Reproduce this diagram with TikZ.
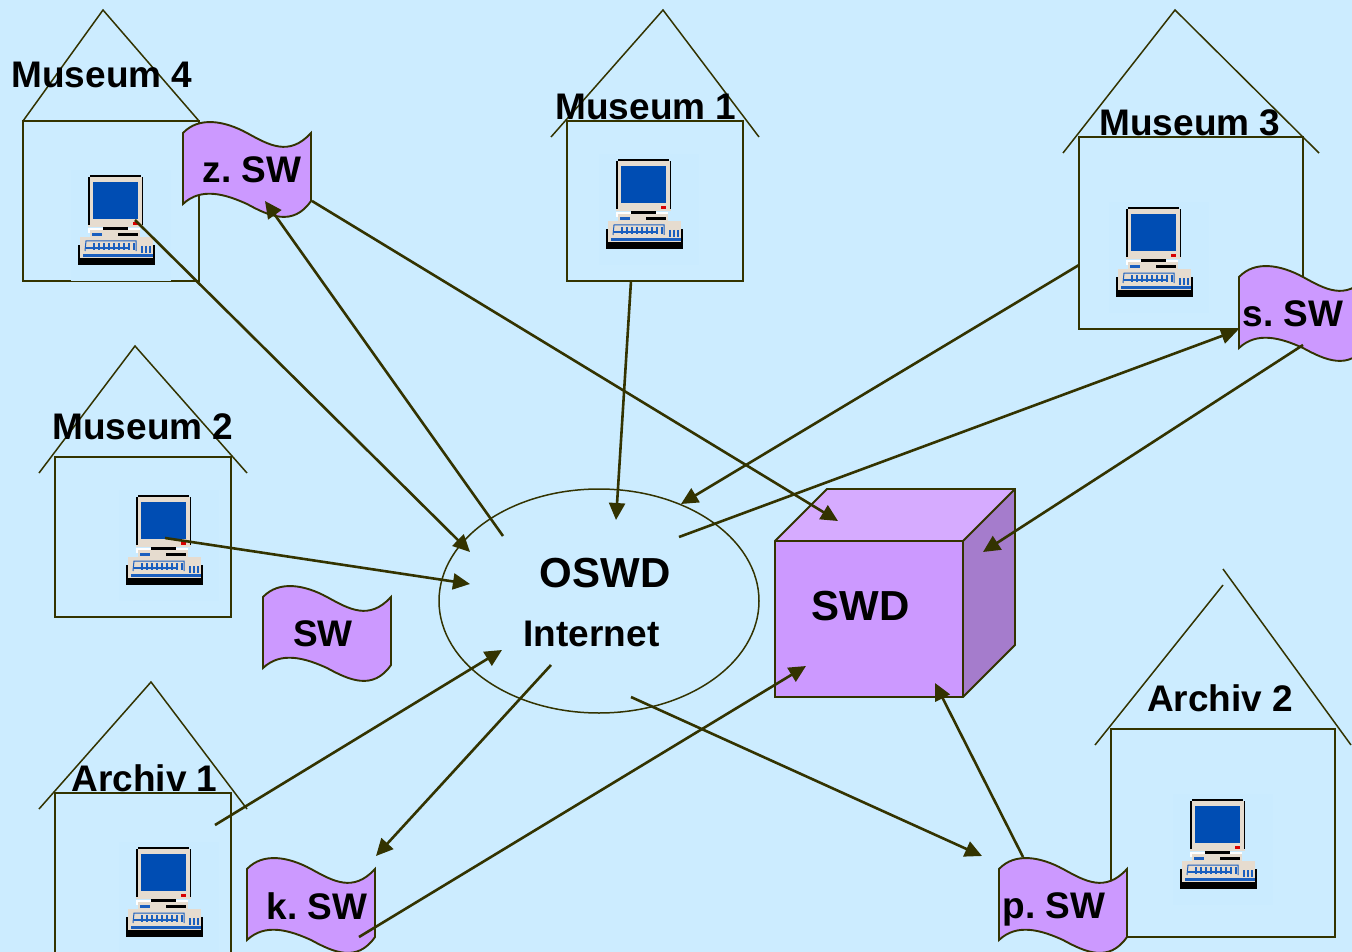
\documentclass[tikz,border=0pt]{standalone}
\usepackage{fontspec}
\setmainfont{Liberation Sans}
\usepackage{tikz}
\usetikzlibrary{arrows.meta}
\usetikzlibrary{shapes.geometric}

\definecolor{pagebg}{HTML}{CCECFF}
\definecolor{iconbg}{HTML}{CAEBFF}
\definecolor{wire}{HTML}{333300}
\definecolor{lilac}{HTML}{CC99FF}
\definecolor{lilactop}{HTML}{D6ABFF}
\definecolor{lilacside}{HTML}{A57CCC}
\definecolor{screenblue}{HTML}{004DB3}
\definecolor{keyblue}{HTML}{1A5FBF}
\definecolor{casing}{HTML}{E6DCCF}

\tikzset{
	pics/computer/.style={code={
		\fill[iconbg] (-45,-50) rectangle (55,61);
		% monitor
		\fill[casing] (-28,-43) rectangle (27,7);
		\fill[black] (-26,-45) rectangle (25,-43);
		\fill[black] (-28,-43) rectangle (-26.5,5);
		\fill[black] (25.5,-43) rectangle (27,5);
		\fill[screenblue] (-23,-38) rectangle (22,-1);
		\fill[red!85!black] (17,2) rectangle (22,5);
		% base
		\fill[black] (-13,7) rectangle (12,10);
		\fill[white] (-28,8) rectangle (-13,13);
		\fill[white] (12,8) rectangle (24,13);
		\fill[casing] (-26,10) rectangle (24,18);
		\fill[black] (2,13) rectangle (22,16);
		\fill[keyblue] (-24,13) rectangle (-14,16);
		% keyboard
		\fill[black] (-38,25) rectangle (39,45);
		\fill[casing] (-36,17) rectangle (37,38);
		\fill[keyblue] (-33,34) rectangle (37,37);
		\draw[keyblue, line width=1] (-31,31) -- (-30,21) -- (20,21) -- (20,31);
		\draw[keyblue, line width=1.2] (-30,28) -- (14,28);
		\foreach \tx in {-22,-17,...,18} {
			\draw[keyblue, line width=1.4] (\tx,23) -- (\tx,30);
		}
		\foreach \tx in {26,30,34} {
			\draw[keyblue, line width=1.4] (\tx,26) -- (\tx,33);
		}
	}},
	pics/banner/.style={code={
		\draw[bannerline] (0,12) .. controls (16,-5) and (42,0) .. (64,12)
			.. controls (86,24) and (106,36) .. (128,12) -- (128,80)
			.. controls (110,106) and (86,95) .. (64,83)
			.. controls (42,73) and (18,66) .. (0,83) -- cycle;
	}}
}

\begin{document}
\begin{tikzpicture}[
		x=1pt, y=-1pt,
		line join=miter,
		wall/.style={draw=wire, line width=1.9},
		roof/.style={draw=wire, line width=1.5},
		bannerline/.style={draw=wire, line width=1.9, fill=lilac},
		link/.style={draw=wire, line width=2.6, -{Triangle[length=17, width=16]}},
		lbl/.style={font=\bfseries\fontsize{37}{37}\selectfont, text=black, inner sep=0},
		biglbl/.style={font=\bfseries\fontsize{42}{42}\selectfont, text=black, inner sep=0}
	]
	\clip (0,0) rectangle (1352,952);
	\fill[pagebg] (0,0) rectangle (1352,952);

	% houses
	\draw[wall] (23,121) rectangle (199,281);
	\draw[roof] (23,121) -- (103,10) -- (199,121);
	\draw[wall] (567,121) rectangle (743,281);
	\draw[roof] (551,137) -- (663,10) -- (759,137);
	\draw[wall] (1079,137) rectangle (1303,329);
	\draw[roof] (1063,153) -- (1175,10) -- (1319,153);
	\draw[wall] (55,457) rectangle (231,617);
	\draw[roof] (39,473) -- (135,346) -- (247,473);
	\node[lbl] (archivone) at (144.5,778) {Archiv 1};
	\draw[wall, fill=pagebg] (55,793) rectangle (231,970);
	\draw[roof] (39,809) -- (151,682) -- (247,809);
	\draw[wall] (1111,729) rectangle (1335,937);
	\draw[roof] (1095,745) -- (1223,585);
	\draw[roof] (1223,569) -- (1351,745);

	% computers
	\pic at (116,220) {computer};
	\pic at (644,204) {computer};
	\pic at (1154,252) {computer};
	\pic at (164,540) {computer};
	\pic at (164,892) {computer};
	\pic at (1218,844) {computer};

	% central server box
	\fill[lilactop] (775,541) -- (827,489) -- (1015,489) -- (963,541) -- cycle;
	\fill[lilacside] (963,541) -- (1015,489) -- (1015,645) -- (963,697) -- cycle;
	\fill[lilac] (775,541) rectangle (963,697);
	\draw[wall] (775,541) -- (827,489) -- (1015,489) -- (1015,645) -- (963,697) -- (775,697) -- cycle;
	\draw[wall] (775,541) -- (963,541) -- (1015,489);
	\draw[wall] (963,541) -- (963,697);

	% internet cloud
	\node[draw=wire, line width=1.5, ellipse, minimum width=320, minimum height=224, inner sep=0] (oswd) at (599,601) {};

	% banners
	\pic at (183,121) {banner};
	\pic at (263,585) {banner};
	\pic at (247,857) {banner};
	\pic at (999,857) {banner};
	\pic at (1239,265) {banner};

	% labels
	\node[lbl] (museumfour) at (102,74.5) {Museum 4};
	\node[lbl] (museumone) at (646,106.5) {Museum 1};
	\node[lbl] (museumthree) at (1190,122.5) {Museum 3};
	\node[lbl] (museumtwo) at (143,426.5) {Museum 2};
	\node[lbl] (archivtwo) at (1220,698) {Archiv 2};
	\node[lbl] (zsw) at (252,170) {z.\ SW};
	\node[lbl] (ssw) at (1293,314) {s.\ SW};
	\node[lbl] (sw) at (323,634) {SW};
	\node[lbl] (ksw) at (317,906) {k.\ SW};
	\node[lbl] (psw) at (1054,909) {p.\ SW};
	\node[biglbl] (oswdlabel) at (605,573) {OSWD};
	\node[lbl] (internet) at (591.5,634) {Internet};
	\node[biglbl] (swd) at (860.5,606) {SWD};

	% connector ends
	\coordinate (pcfour) at (135,220);
	\coordinate (pctwo) at (165,538);
	\coordinate (houseone) at (631,281);
	\coordinate (housethree) at (1079,265);
	\coordinate (housearchiv) at (215,825);
	\coordinate (oswdA) at (470,552);
	\coordinate (oswdB) at (503,536);
	\coordinate (oswdC) at (616,520);
	\coordinate (oswdD) at (681,504);
	\coordinate (oswdE) at (679,537);
	\coordinate (oswdF) at (470,584);
	\coordinate (oswdG) at (502,650);
	\coordinate (oswdH) at (551,665);
	\coordinate (oswdI) at (631,697);
	\coordinate (zswin) at (265,201);
	\coordinate (zswout) at (312,201);
	\coordinate (sswin) at (1238,330);
	\coordinate (sswout) at (1303,345);
	\coordinate (kswin) at (376,856);
	\coordinate (kswout) at (359,937);
	\coordinate (pswin) at (982,856);
	\coordinate (pswout) at (1023,857);
	\coordinate (swdtop) at (838,521);
	\coordinate (swdside) at (983,552);
	\coordinate (swdleft) at (806,666);
	\coordinate (swdbottom) at (935,683);

	% connectors
	\draw[link] (pcfour) -- (oswdA);
	\draw[link] (oswdB) -- (zswin);
	\draw[link] (zswout) -- (swdtop);
	\draw[link] (houseone) -- (oswdC);
	\draw[link] (housethree) -- (oswdD);
	\draw[link] (oswdE) -- (sswin);
	\draw[link] (sswout) -- (swdside);
	\draw[link] (pctwo) -- (oswdF);
	\draw[link] (housearchiv) -- (oswdG);
	\draw[link] (oswdH) -- (kswin);
	\draw[link] (kswout) -- (swdleft);
	\draw[link] (oswdI) -- (pswin);
	\draw[link] (pswout) -- (swdbottom);
\end{tikzpicture}
\end{document}
